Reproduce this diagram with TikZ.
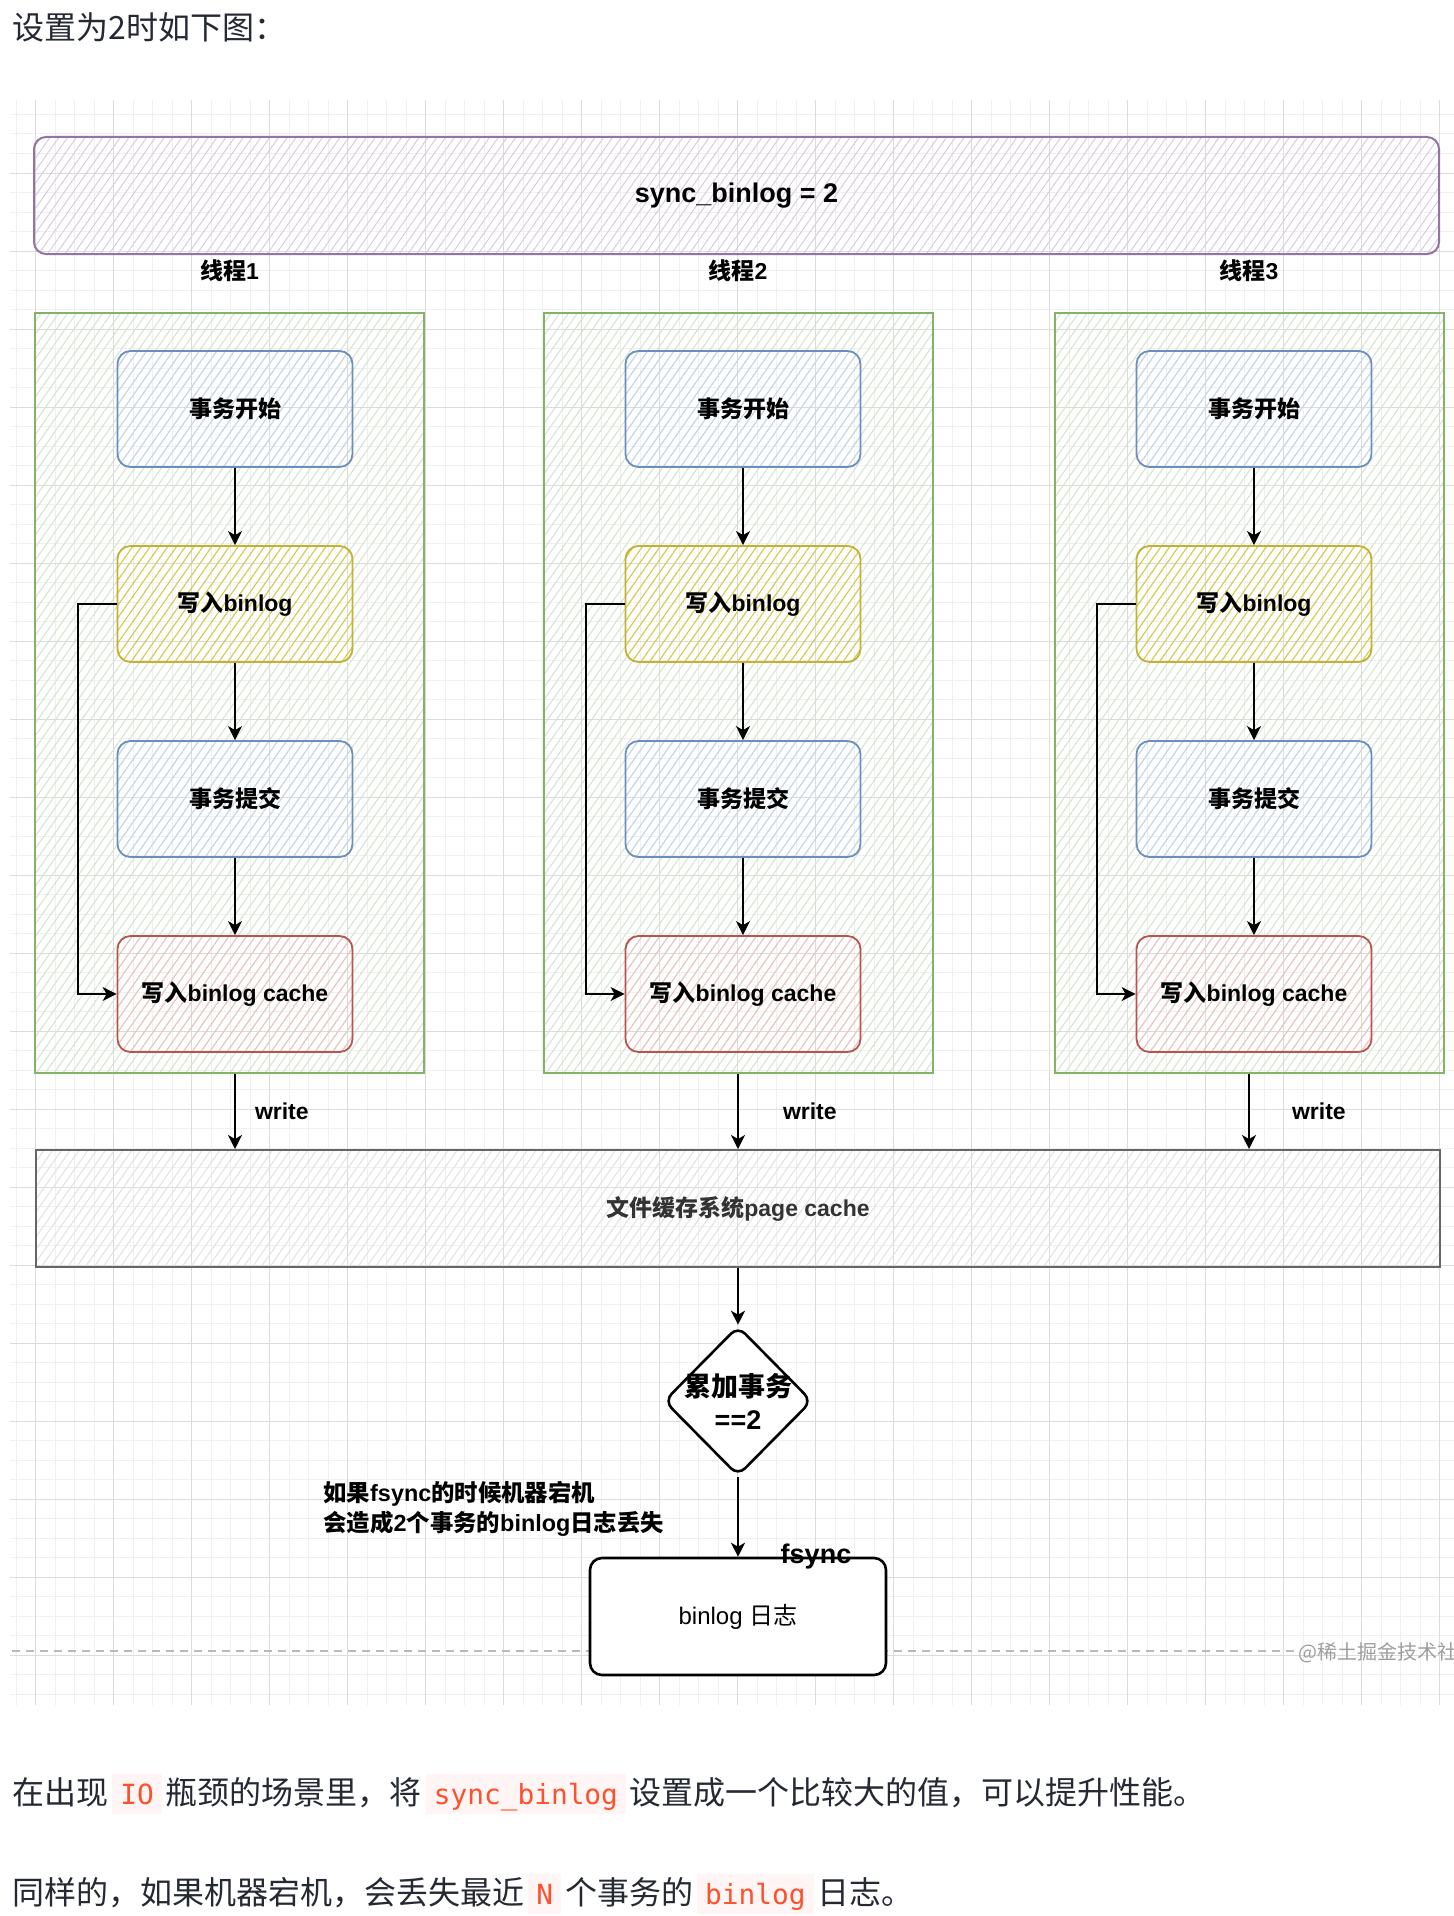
\documentclass[tikz,border=0pt]{standalone}
\usepackage{fontspec}
\setmainfont{Liberation Sans}
\newfontfamily\cjk{Noto Sans CJK SC}
\newfontfamily\codefont{DejaVu Sans Mono}
\usetikzlibrary{arrows.meta, positioning, shapes.geometric, patterns.meta}

\definecolor{gridmajor}{HTML}{DCDCDC}
\definecolor{gridminor}{HTML}{F0F0F0}
\definecolor{bluedraw}{HTML}{6C8EBF}
\definecolor{bluehatch}{HTML}{C6D6EE}
\definecolor{yellowdraw}{HTML}{C4B032}
\definecolor{yellowhatch}{HTML}{DCCB45}
\definecolor{reddraw}{HTML}{B85450}
\definecolor{redhatch}{HTML}{F0C2C0}
\definecolor{greendraw}{HTML}{82B366}
\definecolor{greenhatch}{HTML}{D4E4CC}
\definecolor{purpledraw}{HTML}{9673A6}
\definecolor{purplehatch}{HTML}{D9CCE1}
\definecolor{graydraw}{HTML}{666666}
\definecolor{grayhatch}{HTML}{E2E2E2}
\definecolor{textdark}{HTML}{252933}
\definecolor{codered}{HTML}{FF502C}
\definecolor{codebg}{HTML}{FFF5F5}

\newcommand{\inlinecode}[1]{\hspace{2pt}{\setlength{\fboxsep}{0pt}\colorbox{codebg}{\hspace{4pt}\rule[-5pt]{0pt}{20pt}\codefont\fontsize{13.9}{16}\selectfont\textcolor{codered}{#1}\hspace{4pt}}}\hspace{2pt}}

\begin{document}
\begin{tikzpicture}[x=0.5pt, y=-0.5pt, node distance=97.5pt, on grid,
    >={Stealth[length=7pt, width=7pt, inset=2pt]},
    hatch/.style={pattern={Lines[angle=55, distance=3.6pt, line width=0.5pt]}},
    panel/.style={rectangle, hatch, line width=1pt},
    thread/.style={panel, draw=greendraw, pattern color=greenhatch, minimum width=194.5pt, minimum height=380pt},
    task/.style={rectangle, hatch, rounded corners=6.5pt, line width=0.9pt, minimum width=117.5pt, minimum height=58pt, font=\bfseries\fontsize{11.5}{14}\selectfont},
    bluetask/.style={task, draw=bluedraw, pattern color=bluehatch},
    yellowtask/.style={task, draw=yellowdraw, pattern color=yellowhatch},
    redtask/.style={task, draw=reddraw, pattern color=redhatch},
    lbl/.style={inner sep=0pt, font=\bfseries\fontsize{11.5}{14}\selectfont},
    para/.style={inner sep=0pt, anchor=west, text=textdark, font=\cjk\fontsize{16}{20}\selectfont},
    link/.style={->, line width=1pt}]
    \useasboundingbox (0,0) rectangle (1454,1916);
    \fill[white] (0,0) rectangle (1454,1916);
    % Background grid
    \begin{scope}[xshift=17.75pt, yshift=-8.5pt]
        \draw[gridminor, line width=0.5pt, step=9.75pt] (-25.5,1688) grid (1418.5,83);
        \draw[gridmajor, line width=0.5pt, step=39pt] (-25.5,1688) grid (1418.5,83);
    \end{scope}
    % Define the frames
    \node[para] (head) at (12,27) {设置为2时如下图：};
    \node[panel, draw=purpledraw, pattern color=purplehatch, rounded corners=6pt, minimum width=702.5pt, minimum height=58.5pt, font=\bfseries\fontsize{13.5}{16}\selectfont] (sync) at (736.5,195.5) {sync\_binlog = 2};
    \node[thread] (t1) at (229.5,693) {};
    \node[thread] (t2) at (738,693) {};
    \node[thread] (t3) at (1249,693) {};
    \node[lbl] (th1) [above=20.5pt of t1.north, anchor=center] {{\cjk 线程}1};
    \node[lbl] (th2) [above=20.5pt of t2.north, anchor=center] {{\cjk 线程}2};
    \node[lbl] (th3) [above=20.5pt of t3.north, anchor=center] {{\cjk 线程}3};
    % Define the nodes
    \node[bluetask] (s1) at (235,409) {\cjk 事务开始};
    \node[yellowtask] (b1) [below=of s1] {{\cjk 写入}binlog};
    \node[bluetask] (c1) [below=of b1] {\cjk 事务提交};
    \node[redtask] (k1) [below=of c1] {{\cjk 写入}binlog cache};
    \node[bluetask] (s2) at (743,409) {\cjk 事务开始};
    \node[yellowtask] (b2) [below=of s2] {{\cjk 写入}binlog};
    \node[bluetask] (c2) [below=of b2] {\cjk 事务提交};
    \node[redtask] (k2) [below=of c2] {{\cjk 写入}binlog cache};
    \node[bluetask] (s3) at (1254,409) {\cjk 事务开始};
    \node[yellowtask] (b3) [below=of s3] {{\cjk 写入}binlog};
    \node[bluetask] (c3) [below=of b3] {\cjk 事务提交};
    \node[redtask] (k3) [below=of c3] {{\cjk 写入}binlog cache};
    \node[panel, draw=graydraw, pattern color=grayhatch, minimum width=702pt, minimum height=58.5pt, text=black!80, font=\bfseries\fontsize{11.5}{14}\selectfont] (cache) at (738,1208.5) {{\cjk 文件缓存系统}page cache};
    \node[diamond, draw, fill=white, line width=1.3pt, rounded corners=5pt, minimum width=74pt, minimum height=75pt, inner sep=0pt] (sum) [below=96.25pt of cache] {};
    \node[lbl, align=center, font=\bfseries\fontsize{13.5}{16.5}\selectfont] (sumtext) at (sum) {{\cjk 累加事务}\\==2};
    \node[lbl, anchor=west, align=left, font=\bfseries\fontsize{11.7}{15}\selectfont] (note) at (323,1509) {{\cjk 如果}fsync{\cjk 的时候机器宕机}\\{\cjk 会造成}2{\cjk 个事务的}binlog{\cjk 日志丢失}};
    \coordinate (dashL) at (12,1651);
    \node[inner sep=0pt, anchor=west, text=black!38, font=\cjk\fontsize{10}{12}\selectfont] (wm) at (1298,1653) {@稀土掘金技术社};
    \draw[gray!55, line width=0.6pt, dash pattern=on 4pt off 3pt] (dashL) -- (dashL -| wm.west);
    \node[rectangle, draw, fill=white, line width=1.3pt, rounded corners=6pt, minimum width=148pt, minimum height=58.5pt, font=\fontsize{12}{14}\selectfont] (log) [below=107.75pt of sum] {binlog {\cjk 日志}};
    \node[lbl, font=\bfseries\fontsize{13.5}{16}\selectfont] (fs) [right=39pt of log.north, anchor=center] {fsync};
    % Define the transitions
    \path[link]
    (s1) edge (b1)
    (b1) edge (c1)
    (c1) edge (k1)
    (s2) edge (b2)
    (b2) edge (c2)
    (c2) edge (k2)
    (s3) edge (b3)
    (b3) edge (c3)
    (c3) edge (k3)
    (cache) edge (sum)
    (sum) edge (log);
    \draw[link] (b1.west) -- ++(-19.5pt,0) |- (k1.west);
    \draw[link] (b2.west) -- ++(-19.5pt,0) |- (k2.west);
    \draw[link] (b3.west) -- ++(-19.5pt,0) |- (k3.west);
    \draw[link] (k1.south |- t1.south) -- node[lbl, right=9.5pt] (wr1) {write} (k1.south |- cache.north);
    \draw[link] (t2.south) -- node[lbl, right=22pt] (wr2) {write} (t2.south |- cache.north);
    \draw[link] (t3.south) -- node[lbl, right=21pt] (wr3) {write} (t3.south |- cache.north);
    % Text below the diagram
    \node[para] (p1) at (12,1794) {在出现\inlinecode{IO}瓶颈的场景里，将\inlinecode{sync\_binlog}设置成一个比较大的值，可以提升性能。};
    \node[para] (p2) at (12,1894) {同样的，如果机器宕机，会丢失最近\inlinecode{N}个事务的\inlinecode{binlog}日志。};
\end{tikzpicture}
\end{document}
